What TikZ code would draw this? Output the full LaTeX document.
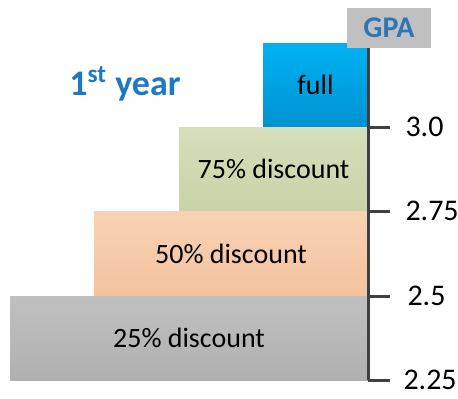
\documentclass[tikz,border=0pt]{standalone}
\usepackage{fontspec}
\setmainfont{Carlito}
\usetikzlibrary{positioning}

\definecolor{fullTop}{HTML}{00B2F2}
\definecolor{fullBot}{HTML}{0092D2}
\definecolor{oliveTop}{HTML}{D7DEBB}
\definecolor{oliveBot}{HTML}{C8D3A8}
\definecolor{peachTop}{HTML}{F9D2B5}
\definecolor{peachBot}{HTML}{F3C39E}
\definecolor{greyTop}{HTML}{C0C0C0}
\definecolor{greyBot}{HTML}{B0B0B0}
\definecolor{yearBlue}{HTML}{1F78C4}
\definecolor{gpaBlue}{HTML}{2E75B6}
\definecolor{axisGrey}{HTML}{404040}

\begin{document}
\begin{tikzpicture}[
  x=0.5pt, y=-0.5pt,
  bar/.style n args={3}{rectangle, draw=none, top color=#2, bottom color=#3,
               minimum width=#1, minimum height=42pt, inner sep=0pt,
               font=\fontsize{14}{16}\selectfont},
  tick/.style={line width=1.5pt, axisGrey},
  val/.style={anchor=west, text=black, font=\fontsize{15}{17}\selectfont, inner sep=0pt}
]
\useasboundingbox (0,0) rectangle (458,398);

% ---- bars ----
\node[bar={52.5pt}{fullTop}{fullBot}]   (full) at (315.5, 85)  {full};
\node[bar={94.5pt}{oliveTop}{oliveBot}] (d75)  at (273.5, 169) {75\% discount};
\node[bar={137pt}{peachTop}{peachBot}]  (d50)  at (231, 253.5) {50\% discount};
\node[bar={179pt}{greyTop}{greyBot}]    (d25)  at (189, 338)   {25\% discount};

% ---- title ----
\node[font=\fontsize{18}{20}\selectfont\bfseries, text=yearBlue, inner sep=0pt]
  (title) at (125, 84) {1\textsuperscript{st} year};

% ---- GPA axis ----
\node[fill=greyTop, minimum width=42pt, minimum height=20pt, inner sep=0pt,
      font=\fontsize{15}{17}\selectfont\bfseries, text=gpaBlue] (gpa) at (389, 28) {GPA};
\coordinate (base) at (368, 380);
\draw[tick] (gpa.south -| base) -- (base);

\coordinate (t30)  at (368, 127);
\coordinate (t275) at (368, 211);
\coordinate (t25)  at (368, 296);
\coordinate (t225) at (368, 380);
\draw[tick] (t30)  -- ++(22,0) node[val, right=7pt] (v30)  {3.0};
\draw[tick] (t275) -- ++(22,0) node[val, right=7pt] (v275) {2.75};
\draw[tick] (t25)  -- ++(22,0) node[val, right=8pt] (v25)  {2.5};
\draw[tick] (t225) -- ++(22,0) node[val, right=6pt] (v225) {2.25};

\end{tikzpicture}
\end{document}
